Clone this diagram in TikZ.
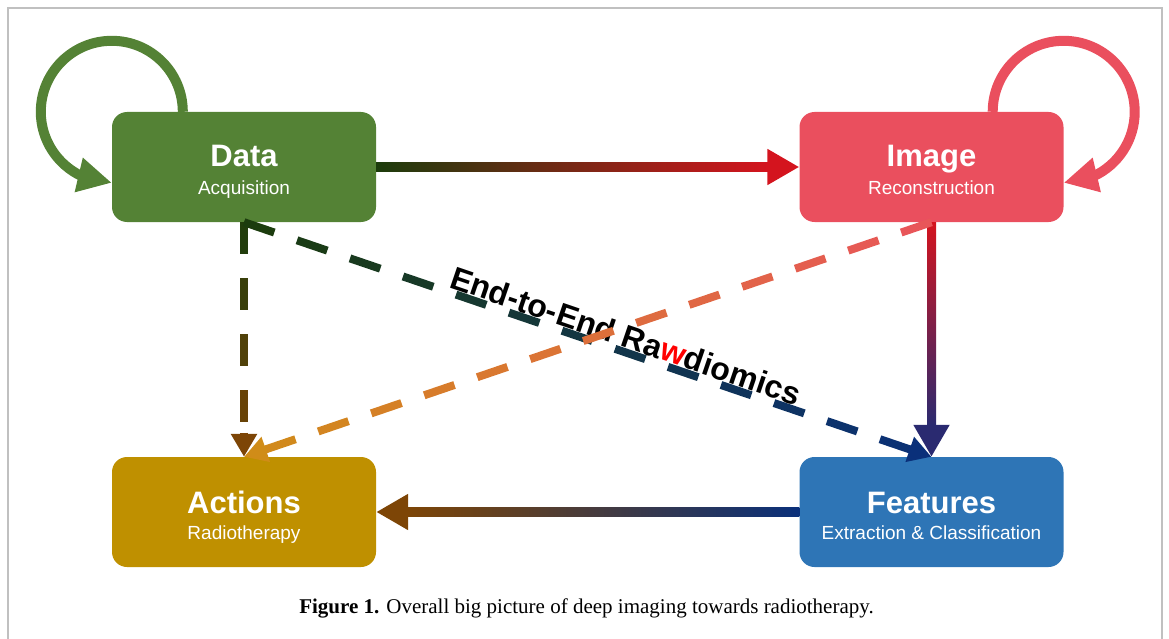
\documentclass[tikz,border=0pt]{standalone}
\usepackage{fontspec}
\setmainfont{Liberation Serif}
\newfontfamily\lsans{Liberation Sans}
\usetikzlibrary{arrows.meta,bending,calc}

\definecolor{boxGreen}{RGB}{84,130,53}
\definecolor{boxRed}{RGB}{234,79,94}
\definecolor{boxGold}{RGB}{191,144,0}
\definecolor{boxBlue}{RGB}{46,117,182}
\definecolor{dkGreen}{RGB}{28,60,12}
\definecolor{lnRed}{RGB}{212,20,30}
\definecolor{navyPurple}{RGB}{42,42,112}
\definecolor{navyB}{RGB}{10,48,122}
\definecolor{brownA}{RGB}{125,69,6}
\definecolor{salmonA}{RGB}{232,85,90}
\definecolor{goldOr}{RGB}{208,140,24}
\definecolor{frameGray}{RGB}{192,192,192}

\tikzset{
  box/.style={rectangle, rounded corners=15pt, minimum width=264pt, minimum height=110pt, inner sep=0pt, draw=none},
  ttl/.style={anchor=base, text=white, font=\lsans\bfseries\fontsize{31}{31}\selectfont, inner sep=0pt},
  subt/.style={anchor=base, text=white, font=\lsans\fontsize{19}{19}\selectfont, inner sep=0pt},
  dseg/.style={line width=8pt, line cap=butt},
  solidtip/.style={line width=9pt, -{Triangle[length=32pt,width=34pt]}},
  dashtip/.style={line width=8pt, -{Triangle[length=23pt,width=25pt]}},
  loopline/.style={line width=10pt, -{Triangle[length=34pt,width=33pt]}},
}

\begin{document}
\begin{tikzpicture}[x=1pt,y=-1pt]
\useasboundingbox (0,0) rectangle (1169,639);
\draw[frameGray, line width=1.5pt] (8,639) -- (8,8) -- (1162,8) -- (1162,639);

% boxes
\node[box, fill=boxGreen] (data) at (244,167) {};
\node[box, fill=boxRed] (image) at (931.5,167) {};
\node[box, fill=boxGold] (actions) at (244,512) {};
\node[box, fill=boxBlue] (features) at (931.5,512) {};

\node[ttl] (dataT) at ([yshift=0pt]data.center) {Data};
\node[subt] (dataS) at ([yshift=-27pt]data.center) {Acquisition};
\node[ttl] (imageT) at ([yshift=0pt]image.center) {Image};
\node[subt] (imageS) at ([yshift=-27pt]image.center) {Reconstruction};
\node[ttl] (actionsT) at ([yshift=-1pt]actions.center) {Actions};
\node[subt] (actionsS) at ([yshift=-27pt]actions.center) {Radiotherapy};
\node[ttl] (featuresT) at ([yshift=-1pt]features.center) {Features};
\node[subt] (featuresS) at ([yshift=-27pt]features.center) {Extraction \& Classification};

% self loops
\draw[loopline, boxGreen] ([xshift=71pt]data.north west) arc[start angle=0, end angle=270, radius=71pt];
\draw[loopline, boxRed] ([xshift=-71pt]image.north east) arc[start angle=180, end angle=-90, radius=71pt];

% solid gradient connectors
\shade[left color=dkGreen, right color=lnRed] ([yshift=4.5pt]data.east) rectangle ([xshift=-31pt,yshift=-4.5pt]image.west);
\draw[solidtip, lnRed] ([xshift=-33pt]image.west) -- (image.west);

\shade[top color=lnRed, bottom color=navyPurple] ([xshift=-4.5pt]image.south) rectangle ([xshift=4.5pt,yshift=31pt]features.north);
\draw[solidtip, navyPurple] ([yshift=33pt]features.north) -- (features.north);

\shade[left color=brownA, right color=navyB] ([xshift=31pt,yshift=4.5pt]actions.east) rectangle ([yshift=-4.5pt]features.west);
\draw[solidtip, brownA] ([xshift=33pt]actions.east) -- (actions.east);

% dashed Data -> Actions
\foreach \k in {0,...,3}{
  \pgfmathsetmacro\da{56*\k}
  \pgfmathsetmacro\db{min(56*\k+32,212)}
  \pgfmathtruncatemacro\pc{(\da+\db)/4.7}
  \draw[dseg, color=brownA!\pc!dkGreen] ($(data.south)!\da pt!(actions.north)$) -- ($(data.south)!\db pt!(actions.north)$);
}
\draw[dashtip, brownA] ($(actions.north)!24pt!(data.south)$) -- (actions.north);

% dashed Data -> Features
\foreach \k in {0,...,12}{
  \pgfmathsetmacro\da{56*\k}
  \pgfmathsetmacro\db{min(56*\k+32,703)}
  \pgfmathtruncatemacro\pc{(\da+\db)/14.52}
  \draw[dseg, color=navyB!\pc!dkGreen] ($(data.south)!\da pt!(features.north)$) -- ($(data.south)!\db pt!(features.north)$);
}
\draw[dashtip, navyB] ($(features.north)!24pt!(data.south)$) -- (features.north);

% text on the diagonal
\path ($(data.south)!4.5pt!90:(features.north)$) -- ($(features.north)!4.5pt!-90:(data.south)$)
  node[pos=0.548, sloped, anchor=base, inner sep=0pt, font=\lsans\bfseries\fontsize{32}{32}\selectfont] (e2e) {End-to-End Ra{\color{red}w}diomics};

% dashed Image -> Actions
\foreach \k in {0,...,12}{
  \pgfmathsetmacro\da{56*\k}
  \pgfmathsetmacro\db{min(56*\k+32,703)}
  \pgfmathtruncatemacro\pc{(\da+\db)/14.52}
  \draw[dseg, color=goldOr!\pc!salmonA] ($(image.south)!\da pt!(actions.north)$) -- ($(image.south)!\db pt!(actions.north)$);
}
\draw[dashtip, goldOr] ($(actions.north)!24pt!(image.south)$) -- (actions.north);

% caption
\node[anchor=base, inner sep=0pt, font=\fontsize{21}{21}\selectfont] (cap) at (586.5,613)
  {\textbf{Figure 1.} Overall big picture of deep imaging towards radiotherapy.};
\end{tikzpicture}
\end{document}
